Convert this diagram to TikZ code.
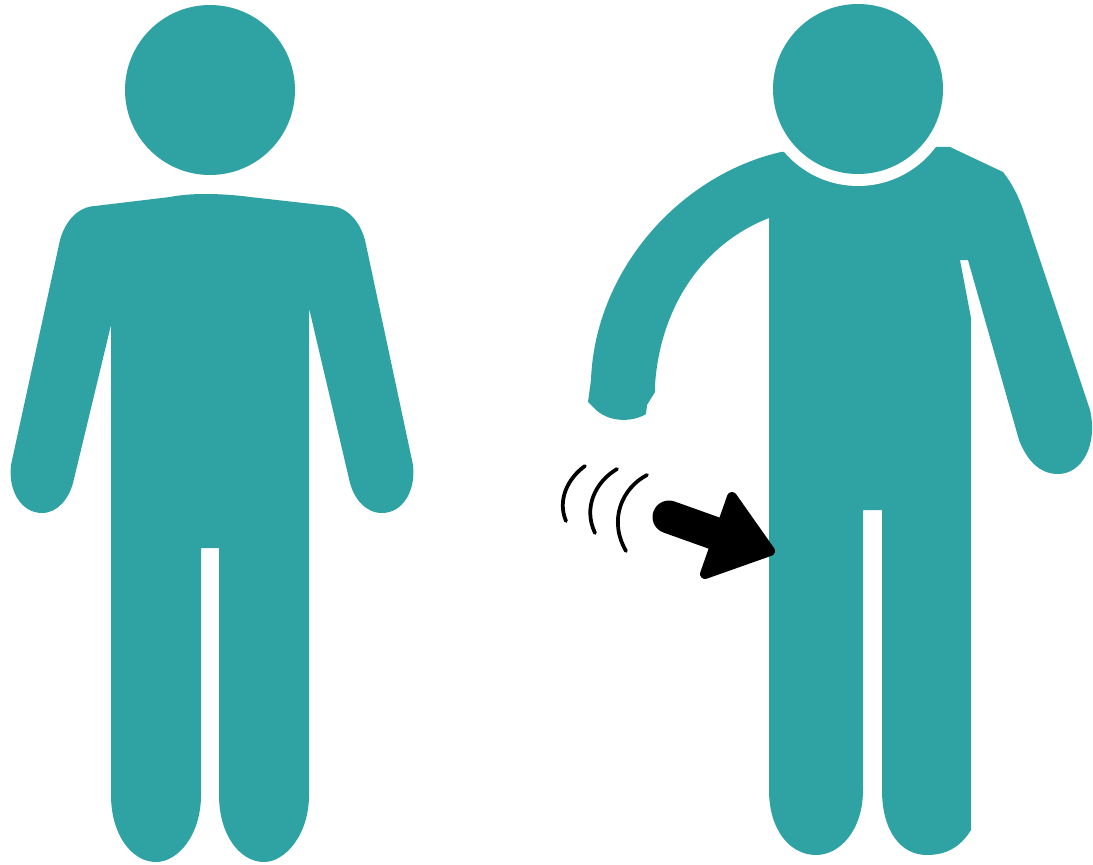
\documentclass[tikz,border=0pt]{standalone}
\definecolor{figteal}{RGB}{47,162,163}

\begin{document}
\begin{tikzpicture}[x=0.02cm,y=-0.02cm, figure/.style={fill=figteal}, wave/.style={draw=black, line width=0.075cm, line cap=round}]
    \useasboundingbox (0,0) rectangle (1093,865);
    \fill[figure] (210,90) circle (85);
    \fill[figure] (205,194) .. controls (220,194) and (235,195) .. (250,197) -- (330,206)
        .. controls (348,207) and (360,222) .. (365,240) -- (413,465)
        .. controls (416,492) and (402,513) .. (382,513)
        .. controls (365,513) and (354,498) .. (350,483) -- (309,308) -- (309,795)
        .. controls (309,835) and (285,862) .. (264,862)
        .. controls (240,862) and (219,835) .. (219,795) -- (219,548) -- (201,548) -- (201,795)
        .. controls (201,835) and (178,862) .. (156,862)
        .. controls (132,862) and (111,835) .. (111,795) -- (111,325) -- (73,483)
        .. controls (69,498) and (58,513) .. (42,513)
        .. controls (22,513) and (8,492) .. (11,465) -- (60,240)
        .. controls (65,222) and (77,207) .. (95,206) -- (170,197)
        .. controls (180,195) and (192,194) .. (205,194) -- cycle;
    \fill[figure] (781,152) -- (935,147) -- (950,147) -- (1003,172)
        .. controls (1013,185) and (1019,197) .. (1025,215) -- (1090,410)
        .. controls (1098,445) and (1082,474) .. (1058,474)
        .. controls (1038,474) and (1026,458) .. (1019,440) -- (968,260) -- (960,260) -- (971,318) -- (971,830)
        .. controls (960,848) and (945,855) .. (927,855)
        .. controls (900,855) and (882,830) .. (882,790) -- (882,510) -- (863,510) -- (863,790)
        .. controls (863,830) and (840,855) .. (816,855)
        .. controls (790,855) and (769,830) .. (769,790) -- (769,218)
        .. controls (700,245) and (660,310) .. (655,385) -- (655,392) -- (647,405) -- (646,414)
        .. controls (635,421) and (612,424) .. (596,410) -- (588,402) -- (591,380)
        .. controls (595,270) and (680,175) .. (781,152) -- cycle;
    \fill[white] (858,89) circle (97);
    \fill[figure] (858,89) circle (85);
    \draw[wave] (585,466) .. controls (568,478) and (557,500) .. (566,521);
    \draw[wave] (617,469) .. controls (595,482) and (583,508) .. (595,533);
    \draw[wave] (647,475) .. controls (622,488) and (608,520) .. (626,551);
    \draw[black, line width=0.66cm, line cap=round] (669,517) -- (725,537);
    \fill[black, draw=black, line width=0.2cm, line join=round] (732,497) -- (770,551) -- (705,574) -- cycle;
\end{tikzpicture}
\end{document}
